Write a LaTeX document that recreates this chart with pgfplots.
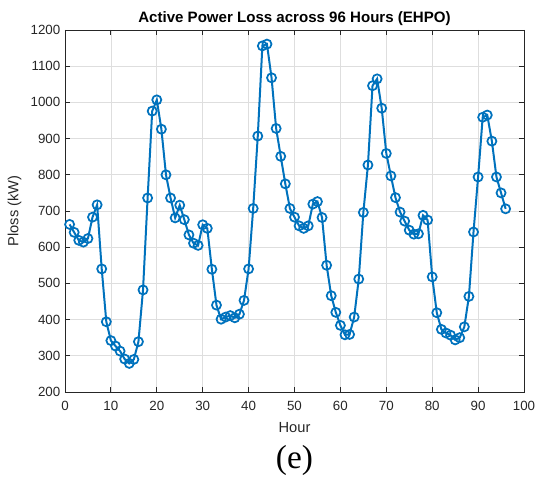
\documentclass[border=0pt]{standalone}
\usepackage{pgfplots}
\pgfplotsset{compat=1.18}
\usepackage{fontspec}
\setmainfont{Liberation Sans}
\newfontfamily\serifface{Liberation Serif}
\definecolor{mblue}{rgb}{0,0.447,0.741}
\definecolor{axgray}{rgb}{0.15,0.15,0.15}
\definecolor{gridgray}{rgb}{0.87,0.87,0.87}
\begin{document}
\begin{tikzpicture}
\useasboundingbox (-48.75pt,-63.75pt) rectangle (353.25pt,294pt);
\begin{axis}[
  at={(0,0)}, anchor=south west,
  scale only axis, width=344.25pt, height=271.5pt,
  xmin=0, xmax=100, ymin=200, ymax=1200,
  xtick={0,10,...,100}, ytick={200,300,...,1200},
  grid=major,
  major grid style={gridgray, line width=0.5pt},
  axis line style={axgray, line width=0.6pt},
  tick style={axgray, line width=0.6pt},
  major tick length=4pt,
  tick align=inside,
  xtick pos=both, ytick pos=both,
  ticklabel style={font=\fontsize{10}{12}\selectfont, text=axgray},
  xticklabel style={yshift=-3.5pt},
  /pgf/number format/assume math mode=true,
  /pgf/number format/1000 sep={},
  xlabel={Hour}, ylabel={Ploss (kW)},
  label style={font=\fontsize{11}{13}\selectfont, text=axgray},
  xlabel style={yshift=-2pt},
  ylabel style={yshift=0pt},
  title={Active Power Loss across 96 Hours (EHPO)},
  title style={font=\bfseries\fontsize{11.3}{13}\selectfont, yshift=-6.5pt},
]
\addplot[mblue, line width=1.5pt, mark=o, mark size=3.4pt, mark options={line width=1.3pt}] coordinates {
(1,663)(2,641)(3,619)(4,614)(5,624)(6,683)(7,717)(8,540)(9,394)(10,342)
(11,327)(12,313)(13,291)(14,279)(15,290)(16,339)(17,482)(18,736)(19,976)(20,1007)
(21,926)(22,800)(23,736)(24,681)(25,716)(26,676)(27,634)(28,611)(29,605)(30,662)
(31,652)(32,539)(33,440)(34,401)(35,407)(36,411)(37,405)(38,415)(39,453)(40,540)
(41,707)(42,907)(43,1156)(44,1161)(45,1068)(46,928)(47,851)(48,775)(49,707)(50,683)
(51,659)(52,652)(53,659)(54,719)(55,726)(56,682)(57,550)(58,466)(59,420)(60,384)
(61,358)(62,359)(63,407)(64,512)(65,696)(66,827)(67,1046)(68,1065)(69,984)(70,859)
(71,797)(72,737)(73,697)(74,672)(75,647)(76,636)(77,637)(78,688)(79,675)(80,518)
(81,419)(82,373)(83,363)(84,357)(85,344)(86,350)(87,380)(88,464)(89,642)(90,794)
(91,959)(92,965)(93,893)(94,794)(95,750)(96,706)
};
\end{axis}
\node[font=\serifface\fontsize{25}{30}\selectfont] at (172.1pt,-51.5pt) {(e)};
\end{tikzpicture}
\end{document}
